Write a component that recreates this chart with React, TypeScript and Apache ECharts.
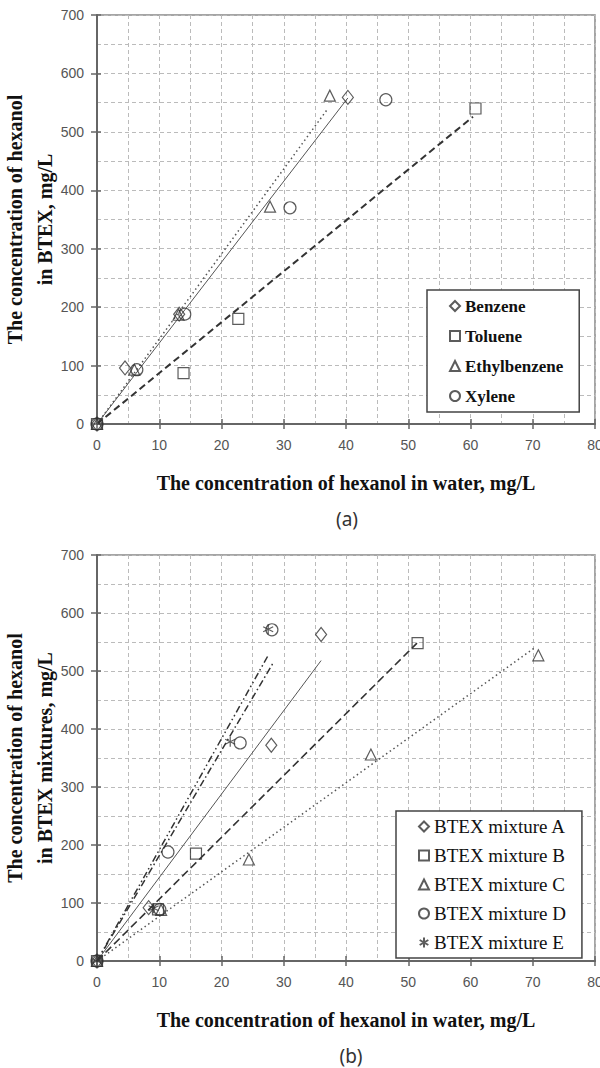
import React, { useEffect, useRef } from "react";
import * as echarts from "echarts";

// ---- Data (a) ----
const benzene: number[][] = [[0, 0], [4.5, 96], [13.2, 188], [40.3, 559]];
const toluene: number[][] = [[0, 0], [13.9, 87], [22.7, 180], [60.8, 540]];
const ethylbenzene: number[][] = [[0, 0], [6.0, 93], [13.1, 187], [27.8, 372], [37.4, 562]];
const xylene: number[][] = [[0, 0], [6.4, 93], [14.1, 188], [31.0, 370], [46.4, 555]];
const benzeneFit: number[][] = [[0, 0], [40.3, 558]];
const tolueneFit: number[][] = [[0, 0], [60.4, 526]];
const ethylFit: number[][] = [[0, 0], [36.9, 537]];

// ---- Data (b) ----
const mixA: number[][] = [[0, 0], [8.3, 92], [28.0, 372], [36.0, 563]];
const mixB: number[][] = [[0, 0], [9.8, 89], [15.9, 185], [51.5, 548]];
const mixC: number[][] = [[0, 0], [10.3, 88], [24.4, 175], [44.0, 356], [70.9, 527]];
const mixD: number[][] = [[0, 0], [10.1, 89], [11.4, 188], [23.0, 376], [28.1, 571]];
const mixE: number[][] = [[0, 0], [9.1, 91], [21.4, 378], [27.5, 572]];
const fitA: number[][] = [[0, 0], [36.0, 518]];
const fitB: number[][] = [[0, 0], [51.4, 548]];
const fitC: number[][] = [[0, 0], [70.3, 540]];
const fitD: number[][] = [[0, 0], [28.3, 514]];
const fitE: number[][] = [[0, 0], [27.5, 527]];

const namesA = ["Benzene", "Toluene", "Ethylbenzene", "Xylene"];
const namesB = ["BTEX mixture A", "BTEX mixture B", "BTEX mixture C", "BTEX mixture D", "BTEX mixture E"];

const STAR = "path://M0,-6L0,6M-5.2,-3L5.2,3M-5.2,3L5.2,-3";

const markerStyle = { color: "rgba(255,255,255,0)", borderColor: "#333", borderWidth: 1.2 };

function scatter(name: string, data: number[][], symbol: string, idx: number, size: any = 11) {
  return {
    type: "scatter", name, data, symbol, symbolSize: size,
    xAxisIndex: idx, yAxisIndex: idx, itemStyle: markerStyle, z: 5,
  };
}
function fit(name: string, data: number[][], idx: number, type: any, width: number, color: string) {
  return {
    type: "line", name, data, xAxisIndex: idx, yAxisIndex: idx, symbol: "none",
    lineStyle: { type, width, color }, z: 3,
  };
}

const tickFont = "'Liberation Sans', Arial, sans-serif";
const serif = "'Liberation Serif', 'Times New Roman', serif";

function xAxisMain(gi: number) {
  return {
    type: "value", gridIndex: gi, min: 0, max: 80, interval: 10, position: "bottom",
    axisLine: { show: true, onZero: false, lineStyle: { color: "#666", width: 2 } },
    axisTick: { show: true, length: 5, lineStyle: { color: "#666", width: 1.5 } },
    axisLabel: { color: "#555", fontSize: 14, fontFamily: tickFont, margin: 14 },
    splitLine: { show: true, lineStyle: { color: "#bbb", type: [4, 3], width: 1 } },
    minorTick: { show: false, splitNumber: 2 },
    minorSplitLine: { show: true, lineStyle: { color: "#bbb", type: [4, 3], width: 1 } },
    name: "The concentration of hexanol in water, mg/L",
    nameLocation: "middle", nameGap: 49, nameMoveOverlap: false,
    nameTextStyle: { fontFamily: serif, fontWeight: "bold", fontSize: 20, color: "#111" },
  };
}
function xAxisInner(gi: number) {
  return {
    type: "value", gridIndex: gi, min: 0, max: 80, interval: 10, position: "bottom",
    axisLine: { show: false, onZero: false }, axisLabel: { show: false }, splitLine: { show: false },
    axisTick: { show: true, inside: true, length: 5, lineStyle: { color: "#666", width: 1.5 } },
  };
}
function yAxisMain(gi: number, name: string) {
  return {
    type: "value", gridIndex: gi, min: 0, max: 700, interval: 100, position: "left",
    axisLine: { show: true, onZero: false, lineStyle: { color: "#666", width: 2 } },
    axisTick: { show: true, length: 6, lineStyle: { color: "#666", width: 1.5 } },
    axisLabel: { color: "#555", fontSize: 14, fontFamily: tickFont, margin: 13 },
    splitLine: { show: true, lineStyle: { color: "#bbb", type: [4, 3], width: 1 } },
    minorTick: { show: false, splitNumber: 2 },
    minorSplitLine: { show: true, lineStyle: { color: "#bbb", type: [4, 3], width: 1 } },
    name, nameLocation: "middle", nameGap: 37, nameMoveOverlap: false,
    nameTextStyle: { fontFamily: serif, fontWeight: "bold", fontSize: 20, color: "#111", lineHeight: 30, align: "center" },
  };
}
function yAxisInner(gi: number) {
  return {
    type: "value", gridIndex: gi, min: 0, max: 700, interval: 100, position: "left",
    axisLine: { show: false, onZero: false }, axisLabel: { show: false }, splitLine: { show: false },
    axisTick: { show: true, inside: true, length: 4, lineStyle: { color: "#666", width: 1.5 } },
  };
}

export default function App() {
  const ref = useRef<HTMLDivElement>(null);
  useEffect(() => {
    if (!ref.current) return;
    const chart = echarts.init(ref.current, null, { renderer: "svg" });
    const gridBase = {
      left: 97, right: 5, show: true, borderColor: "#888", borderWidth: 1.5,
      backgroundColor: "transparent", containLabel: false, outerBoundsMode: "none",
    };
    const option: any = {
      animation: false,
      backgroundColor: "#fff",
      grid: [
        { ...gridBase, top: 15, height: 409 },
        { ...gridBase, top: 555, height: 406 },
      ],
      title: [
        { text: "(a)", left: 342, top: 504, textAlign: "center", textStyle: { fontFamily: "'Noto Sans', sans-serif", fontWeight: "normal", fontSize: 19, color: "#333" } },
        { text: "(b)", left: 346, top: 1041, textAlign: "center", textStyle: { fontFamily: "'Noto Sans', sans-serif", fontWeight: "normal", fontSize: 19, color: "#333" } },
      ],
      xAxis: [xAxisMain(0), xAxisMain(1), xAxisInner(0), xAxisInner(1)],
      yAxis: [
        yAxisMain(0, "The concentration of hexanol\nin BTEX, mg/L"),
        yAxisMain(1, "The concentration of hexanol\nin BTEX mixtures, mg/L"),
        yAxisInner(0), yAxisInner(1),
      ],
      legend: [
        {
          data: namesA, orient: "vertical", left: 427, top: 290,
          padding: [7, 16, 7, 22], itemGap: 12, itemWidth: 10, itemHeight: 10,
          backgroundColor: "#fff", borderColor: "#444", borderWidth: 1.5, borderRadius: 0,
          textStyle: { fontFamily: serif, fontWeight: "bold", fontSize: 17, color: "#111", lineHeight: 18 },
          selectedMode: false,
        },
        {
          data: namesB, orient: "vertical", left: 396, top: 811,
          padding: [6, 16, 6, 22], itemGap: 10, itemWidth: 10, itemHeight: 10,
          backgroundColor: "#fff", borderColor: "#444", borderWidth: 1.5, borderRadius: 0,
          textStyle: { fontFamily: serif, fontWeight: "normal", fontSize: 19, color: "#111", lineHeight: 18 },
          selectedMode: false,
        },
      ],
      series: [
        fit("Benzene fit", benzeneFit, 0, "solid", 1, "#555"),
        fit("Toluene fit", tolueneFit, 0, [7, 4], 2, "#333"),
        fit("Ethylbenzene fit", ethylFit, 0, [1.5, 3], 1.5, "#555"),
        scatter("Benzene", benzene, "diamond", 0, [11, 14]),
        scatter("Toluene", toluene, "rect", 0, 11),
        scatter("Ethylbenzene", ethylbenzene, "triangle", 0, 11),
        scatter("Xylene", xylene, "circle", 0, 12),
        fit("A fit", fitA, 1, "solid", 1, "#555"),
        fit("B fit", fitB, 1, [8, 4], 1.6, "#333"),
        fit("C fit", fitC, 1, [1.5, 3], 1.5, "#555"),
        fit("D fit", fitD, 1, [7, 3, 1.5, 3], 1.5, "#333"),
        fit("E fit", fitE, 1, [7, 3, 1.5, 3, 1.5, 3], 1.5, "#333"),
        scatter("BTEX mixture A", mixA, "diamond", 1, [11, 14]),
        scatter("BTEX mixture B", mixB, "rect", 1, 11),
        scatter("BTEX mixture C", mixC, "triangle", 1, 11),
        scatter("BTEX mixture D", mixD, "circle", 1, 12),
        scatter("BTEX mixture E", mixE, STAR, 1, 10),
      ],
    };
    chart.setOption(option);
    return () => chart.dispose();
  }, []);
  return (
    <div
      ref={ref}
      style={{ position: "absolute", left: 0, top: 0, width: 600, height: 1068, background: "#fff" }}
    />
  );
}
